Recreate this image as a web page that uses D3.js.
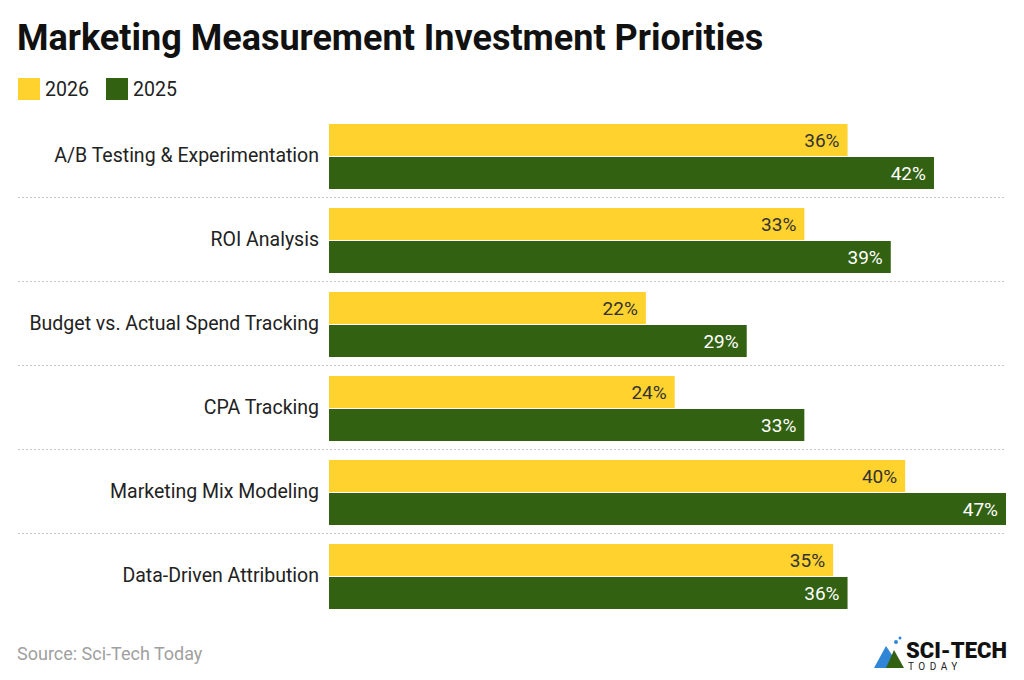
<!DOCTYPE html>
<html>
<head>
<meta charset="utf-8">
<script src="https://cdn.jsdelivr.net/npm/d3@7"></script>
<style>
  body { margin: 0; background: #fff; }
  svg { font-family: Roboto, "Noto Sans", sans-serif; }
</style>
</head>
<body>
<svg id="chart" width="1024" height="680"></svg>
<script>
const categories = [
  "A/B Testing & Experimentation",
  "ROI Analysis",
  "Budget vs. Actual Spend Tracking",
  "CPA Tracking",
  "Marketing Mix Modeling",
  "Data-Driven Attribution"
];
const values2026 = [36, 33, 22, 24, 40, 35];
const values2025 = [42, 39, 29, 33, 47, 36];
const seriesNames = ["2026", "2025"];
const seriesColors = ["#FFD22E", "#336112"];
const labelColors = ["#333333", "#ffffff"];

const svg = d3.select("#chart");

svg.append("text")
  .attr("x", 17).attr("y", 50)
  .attr("font-size", 36).attr("font-weight", 700).attr("fill", "#111")
  .text("Marketing Measurement Investment Priorities");

// legend
const legend = svg.append("g");
const legendX = [18, 106];
seriesNames.forEach((name, i) => {
  legend.append("rect")
    .attr("x", legendX[i]).attr("y", 78).attr("width", 22).attr("height", 22)
    .attr("fill", seriesColors[i]);
  legend.append("text")
    .attr("x", legendX[i] + 27).attr("y", 96)
    .attr("font-size", 19.5).attr("fill", "#222")
    .text(name);
});

const x = d3.scaleLinear().domain([0, 47]).range([329, 1006]);
const y = d3.scaleBand().domain(categories).range([114, 618]).padding(0);
const barH = 32;

const series = [values2026, values2025];

// separators
categories.slice(1).forEach(c => {
  svg.append("line")
    .attr("x1", 18).attr("x2", 1006)
    .attr("y1", y(c) - 0.5).attr("y2", y(c) - 0.5)
    .attr("stroke", "#c8c8c8").attr("stroke-dasharray", "2 2");
});

const groups = svg.selectAll(".grp").data(categories).enter()
  .append("g").attr("class", "grp")
  .attr("transform", d => `translate(0,${y(d)})`);

groups.append("text")
  .attr("x", 319).attr("y", 48)
  .attr("text-anchor", "end").attr("font-size", 19.5).attr("fill", "#222")
  .text(d => d);

series.forEach((vals, s) => {
  const off = 10 + s * (barH + 1);
  groups.append("rect")
    .attr("x", x(0)).attr("y", off)
    .attr("width", (d, i) => x(vals[i]) - x(0)).attr("height", barH)
    .attr("fill", seriesColors[s]);
  groups.append("text")
    .attr("x", (d, i) => x(vals[i]) - 8).attr("y", off + 23)
    .attr("text-anchor", "end").attr("font-size", 19)
    .attr("fill", labelColors[s])
    .text((d, i) => vals[i] + "%");
});

svg.append("text")
  .attr("x", 17).attr("y", 660)
  .attr("font-size", 18).attr("fill", "#a0a0a0")
  .text("Source: Sci-Tech Today");

// logo
const logo = svg.append("g").attr("transform", "translate(874,636)");
logo.append("path").attr("d", "M0,32 L12,10 L20,22 L14,32 Z").attr("fill", "#2f86d6");
logo.append("path").attr("d", "M12,32 L20,14 L30,32 Z").attr("fill", "#336112");
logo.append("circle").attr("cx", 22).attr("cy", 6).attr("r", 2).attr("fill", "#2f86d6");
logo.append("circle").attr("cx", 26).attr("cy", 2).attr("r", 1.5).attr("fill", "#2f86d6");
logo.append("text").attr("x", 32).attr("y", 22)
  .attr("font-size", 22).attr("font-weight", 900).attr("fill", "#111")
  .text("SCI-TECH");
logo.append("text").attr("x", 34).attr("y", 34)
  .attr("font-size", 10).attr("letter-spacing", 4.5).attr("fill", "#222")
  .text("TODAY");
</script>
</body>
</html>
